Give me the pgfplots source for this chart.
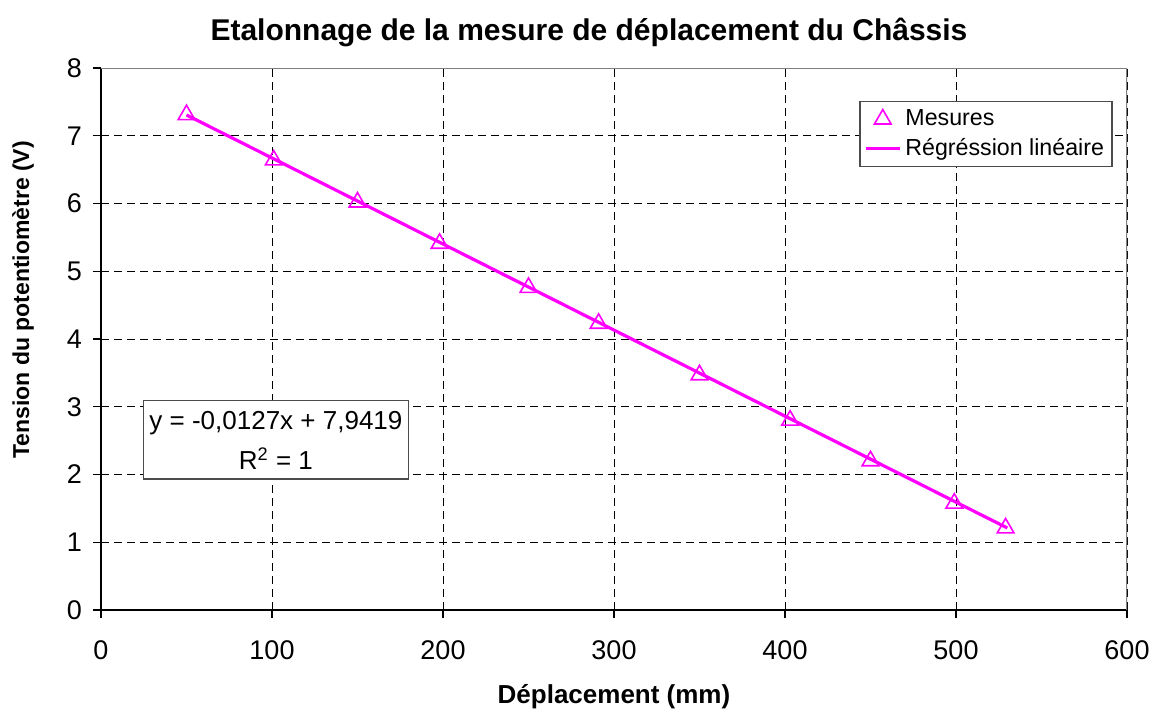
\documentclass[border=0pt]{standalone}
\usepackage{fontspec}
\setmainfont{Liberation Sans}
\usepackage{pgfplots}
\pgfplotsset{compat=1.18}
\definecolor{magentaxl}{RGB}{255,0,255}

\begin{document}
\begin{tikzpicture}
% fixed page frame: plot area is (0,0)--(513pt,271pt)
\useasboundingbox (-50.5pt,-51.5pt) rectangle (527.5pt,305pt);
\begin{axis}[
    scale only axis,
    width=513pt, height=271pt,
    xmin=0, xmax=600, ymin=0, ymax=8,
    xtick={0,100,...,600}, ytick={0,1,...,8},
    axis x line*=bottom, axis y line*=left,
    axis line style={black, line width=0.8pt},
    tick align=outside, major tick length=4pt,
    tick style={black, line width=0.6pt},
    grid=major,
    grid style={black, dash pattern=on 4pt off 2.5pt, line width=0.5pt},
    /pgf/number format/assume math mode=true,
    ticklabel style={font=\fontsize{13.5}{16}\selectfont},
    xticklabel style={yshift=-8pt},
    yticklabel style={xshift=-2pt},
    xlabel={Déplacement (mm)},
    ylabel={Tension du potentiomètre (V)},
    xlabel style={font=\fontsize{13}{15}\selectfont\bfseries, at={(axis description cs:0.5,-0.16)}, anchor=center},
    ylabel style={font=\fontsize{11.5}{13}\selectfont\bfseries, at={(axis description cs:-0.076,0.572)}, anchor=center},
    title={Etalonnage de la mesure de déplacement du Châssis},
    title style={font=\fontsize{15}{18}\selectfont\bfseries, at={(axis description cs:0.5,1)}, anchor=base, yshift=7.7pt, xshift=-12.5pt},
    legend style={at={(0.986,0.939)}, anchor=north east, draw=black!70, line width=0.6pt,
        font=\fontsize{11.6}{14}\selectfont, inner sep=2pt, row sep=1pt},
    legend cell align=left,
]
\addplot[only marks, mark=triangle, mark size=4.8pt, magentaxl, mark options={line width=0.8pt, fill=white}] coordinates {
    (50,7.31) (101,6.64) (150,6.02) (198,5.41) (250,4.76) (291,4.23)
    (350,3.47) (403,2.80) (450,2.20) (499,1.575) (529,1.21)
};
\addlegendentry{Mesures}
\addplot[magentaxl, line width=1.6pt, no marks] coordinates {
    (50,7.3069) (530,1.2109)
};
\addlegendentry{Régréssion linéaire}
\draw[black!50, line width=0.8pt] (rel axis cs:0,1) -- (rel axis cs:1,1) -- (rel axis cs:1,0);
\node[draw=black!70, fill=white, line width=0.6pt, align=center, inner xsep=3pt, inner ysep=5pt,
      font=\fontsize{13}{20}\selectfont] at (axis cs:102.3,2.51)
    {y = -0,0127x + 7,9419\\R\textsuperscript{2} = 1};
\end{axis}
\end{tikzpicture}
\end{document}
